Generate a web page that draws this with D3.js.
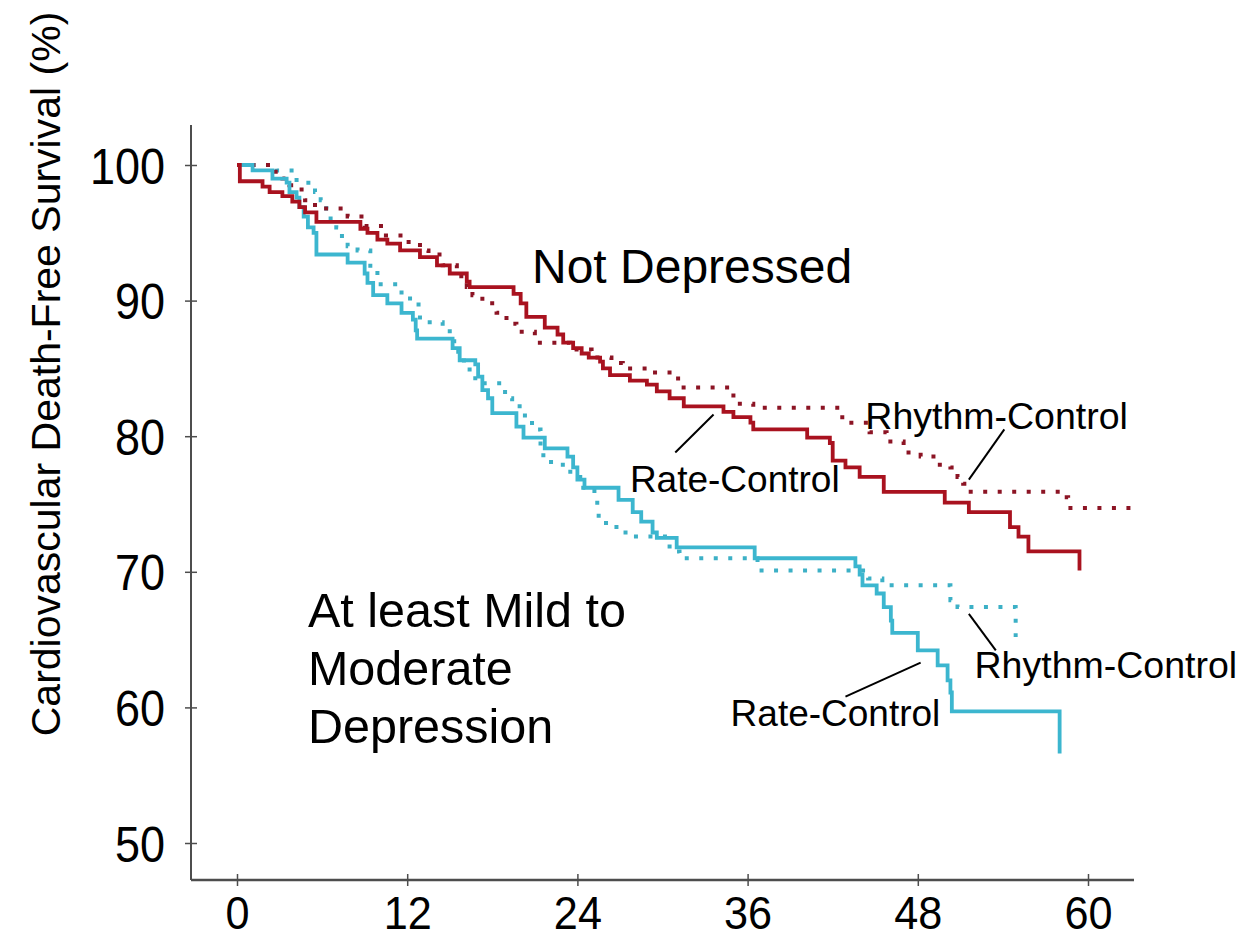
<!DOCTYPE html>
<html>
<head>
<meta charset="utf-8">
<script src="https://cdn.jsdelivr.net/npm/d3@7"></script>
<style>
  body { margin: 0; background: #fff; }
  svg { display: block; }
</style>
</head>
<body>
<script>
// months of follow-up
var xTicks = [0, 12, 24, 36, 48, 60];
var yTicks = [50, 60, 70, 80, 90, 100];

// Not depressed, rate control (solid red)
var rateNotTime = [0, 0.2, 1.8, 2.3, 3.2, 3.9, 4.4, 4.8, 5.6, 8.7, 9.2, 9.9, 10.6, 11.5, 12.9, 14.1, 15.0, 16.2, 16.4, 19.5,
  20.0, 20.4, 21.7, 22.6, 23.0, 23.7, 24.3, 24.8, 25.6, 25.8, 26.3, 27.7, 28.9, 29.6, 30.5, 31.5, 34.3, 35.0, 36.2, 36.4,
  40.2, 41.8, 42.0, 42.9, 43.9, 45.6, 49.9, 51.6, 54.5, 55.1, 55.8, 59.4];
var rateNotSurv = [100, 98.8, 98.4, 98.0, 97.7, 97.3, 96.9, 96.5, 95.8, 95.3, 95.0, 94.5, 94.2, 93.7, 93.2, 92.6, 92.0, 91.4, 91.0, 90.5,
  89.8, 88.8, 88.0, 87.5, 86.9, 86.5, 86.1, 85.8, 85.5, 85.0, 84.5, 84.1, 83.8, 83.3, 82.8, 82.2, 81.8, 81.4, 81.0, 80.5,
  79.9, 79.5, 78.2, 77.7, 77.0, 75.9, 75.1, 74.4, 73.3, 72.6, 71.5, 70.1];

// Not depressed, rhythm control (dotted red)
var rhythmNotTime = [0, 2.5, 3.2, 3.7, 4.2, 4.8, 5.5, 7.8, 9.0, 10.5, 12.1, 12.9, 13.5, 14.5, 15.5, 16.2, 16.6, 17.3, 18.3, 19.0,
  19.7, 21.0, 23.5, 25.0, 26.4, 27.2, 28.9, 31.1, 34.8, 35.0, 36.4, 42.5, 43.0, 44.6, 45.8, 47.0, 48.2, 49.4, 50.3, 50.8,
  51.2, 51.5, 58.5, 58.6, 63.1];
var rhythmNotSurv = [100, 99.5, 99.0, 98.5, 98.2, 97.4, 96.8, 96.2, 95.5, 94.8, 94.1, 93.7, 93.4, 92.6, 91.8, 91.0, 90.4, 89.8, 89.1, 88.3,
  87.7, 86.9, 86.4, 85.8, 85.4, 85.0, 84.7, 83.6, 83.2, 82.4, 82.1, 81.4, 81.0, 80.3, 79.6, 78.8, 78.5, 77.9, 77.7, 77.0,
  76.5, 75.9, 75.5, 74.7, 74.7];

// Depressed, rate control (solid blue)
var rateDepTime = [0, 1.1, 2.5, 3.5, 3.7, 4.2, 4.4, 4.7, 5.0, 5.4, 5.6, 7.8, 9.0, 9.2, 9.6, 10.6, 11.6, 12.4, 12.6, 12.7,
  15.2, 15.7, 16.8, 17.0, 17.3, 17.7, 18.0, 19.7, 20.2, 21.7, 23.3, 23.7, 24.0, 24.5, 26.9, 27.9, 28.5, 29.3, 29.6, 31.0,
  36.5, 43.6, 43.9, 44.1, 45.1, 45.6, 46.1, 46.2, 48.0, 49.4, 50.1, 50.3, 50.4, 58.0];
var rateDepSurv = [100, 99.6, 99.0, 98.7, 98.0, 97.6, 96.9, 96.2, 95.4, 95.0, 93.4, 92.8, 92.0, 91.3, 90.4, 89.8, 89.1, 88.6, 87.8, 87.2,
  86.5, 85.6, 85.3, 84.4, 83.4, 82.8, 81.7, 80.7, 79.9, 79.1, 78.5, 77.7, 76.8, 76.2, 75.3, 74.4, 73.7, 72.9, 72.5, 71.8,
  71.0, 70.4, 69.8, 69.0, 68.4, 67.4, 66.4, 65.5, 64.2, 63.1, 62.0, 61.1, 59.7, 56.6];

// Depressed, rhythm control (dotted blue)
var rhythmDepTime = [0, 2.8, 4.2, 5.5, 5.9, 6.3, 6.6, 7.0, 7.4, 7.8, 8.5, 9.4, 9.9, 11.6, 12.2, 12.8, 12.9, 14.5, 15.0, 15.6,
  16.0, 16.4, 16.8, 18.9, 19.4, 20.3, 20.8, 21.4, 21.6, 22.4, 23.5, 24.2, 25.2, 25.4, 25.5, 26.4, 27.0, 27.7, 30.5, 31.2,
  36.7, 44.5, 45.5, 50.3, 50.8, 54.9];
var rhythmDepSurv = [100, 99.6, 98.7, 98.0, 97.4, 96.8, 95.9, 95.4, 94.6, 94.0, 93.7, 92.4, 91.2, 90.6, 90.0, 89.4, 88.4, 88.0, 87.0, 86.0,
  85.3, 84.5, 83.9, 82.8, 82.2, 81.2, 80.5, 78.8, 78.1, 77.9, 77.0, 76.2, 75.5, 74.6, 73.6, 73.3, 72.9, 72.6, 71.5, 71.0,
  70.1, 69.5, 69.0, 67.9, 67.4, 65.2];

var red = "#a9121f", redDot = "#8c1424", blue = "#3cb6cf", blueDot = "#3cb0c6";

var W = 1255, H = 939;

var svg = d3.select("body").append("svg")
    .attr("width", W)
    .attr("height", H)
    .attr("viewBox", "0 0 " + W + " " + H);

var x = d3.scaleLinear().domain([0, 60]).range([237, 1088]);
var y = d3.scaleLinear().domain([50, 100]).range([843, 165]);

var axisLeftX = 191, axisBottomY = 880, axisTopY = 125, axisRightX = 1134;
var axisColor = "#4d4d4d";

// axis lines
svg.append("line")
    .attr("x1", axisLeftX).attr("x2", axisLeftX)
    .attr("y1", axisTopY).attr("y2", axisBottomY)
    .attr("stroke", axisColor).attr("stroke-width", 2);
svg.append("line")
    .attr("x1", axisLeftX).attr("x2", axisRightX)
    .attr("y1", axisBottomY).attr("y2", axisBottomY)
    .attr("stroke", axisColor).attr("stroke-width", 2.5);

// y axis ticks + labels
var gy = svg.append("g")
    .attr("transform", "translate(" + axisLeftX + ",0)")
    .call(d3.axisLeft(y).tickValues(yTicks).tickSize(6).tickSizeOuter(0));
gy.select(".domain").remove();
gy.selectAll(".tick line").attr("stroke", axisColor).attr("stroke-width", 1.5).attr("x1", 6).attr("x2", -6);
gy.selectAll(".tick text")
    .attr("font-family", "'Liberation Sans', Arial, sans-serif")
    .attr("font-size", 50)
    .attr("fill", "#000")
    .attr("x", 0)
    .attr("dy", "0.36em")
    .attr("transform", "translate(-26,0) scale(0.9,1)");

// x axis ticks + labels
var gx = svg.append("g")
    .attr("transform", "translate(0," + axisBottomY + ")")
    .call(d3.axisBottom(x).tickValues(xTicks).tickSize(6).tickSizeOuter(0));
gx.select(".domain").remove();
gx.selectAll(".tick line").attr("stroke", axisColor).attr("stroke-width", 1.5).attr("y1", -6).attr("y2", 6);
gx.selectAll(".tick text")
    .attr("font-family", "'Liberation Sans', Arial, sans-serif")
    .attr("font-size", 47)
    .attr("fill", "#000")
    .attr("y", 0)
    .attr("dy", 0)
    .attr("transform", "translate(0,49) scale(0.92,1)");

// y axis title
svg.append("text")
    .attr("transform", "translate(60,374) rotate(-90)")
    .attr("text-anchor", "middle")
    .attr("font-family", "'Liberation Sans', Arial, sans-serif")
    .attr("font-size", 41)
    .attr("fill", "#000")
    .text("Cardiovascular Death-Free Survival (%)");

function zipSteps(t, s) {
  return t.map(function(d, i) { return {t: d, s: s[i]}; });
}

var line = d3.line()
    .x(function(d) { return x(d.t); })
    .y(function(d) { return y(d.s); })
    .curve(d3.curveStepAfter);

var curves = [
  {pts: zipSteps(rhythmDepTime, rhythmDepSurv), color: blueDot, dash: "4 10.5", w: 4},
  {pts: zipSteps(rhythmNotTime, rhythmNotSurv), color: redDot, dash: "4 10.5", w: 4},
  {pts: zipSteps(rateDepTime, rateDepSurv), color: blue, dash: null, w: 3.8},
  {pts: zipSteps(rateNotTime, rateNotSurv), color: red, dash: null, w: 3.8}
];

svg.selectAll(".curve")
    .data(curves)
    .enter()
    .append("path")
    .attr("class", "curve")
    .attr("d", function(d) { return line(d.pts); })
    .attr("fill", "none")
    .attr("stroke", function(d) { return d.color; })
    .attr("stroke-width", function(d) { return d.w; })
    .attr("stroke-dasharray", function(d) { return d.dash; })
    .attr("stroke-linejoin", "miter");

// labels (positioned in data units)
var labels = [
  {text: ["Not Depressed"], t: 20.8, s: 91.3, size: 48},
  {text: ["At least Mild to", "Moderate", "Depression"], t: 5.0, s: 65.9, size: 48.5},
  {text: ["Rhythm-Control"], t: 44.3, s: 80.5, size: 37.5},
  {text: ["Rate-Control"], t: 27.7, s: 75.9, size: 37},
  {text: ["Rhythm-Control"], t: 52.0, s: 62.2, size: 37.5},
  {text: ["Rate-Control"], t: 34.8, s: 58.6, size: 37}
];

var lab = svg.selectAll(".lab")
    .data(labels)
    .enter()
    .append("text")
    .attr("class", "lab")
    .attr("x", function(d) { return x(d.t); })
    .attr("y", function(d) { return y(d.s); })
    .attr("font-family", "'Liberation Sans', Arial, sans-serif")
    .attr("font-size", function(d) { return d.size; })
    .attr("fill", "#000");

lab.selectAll("tspan")
    .data(function(d) { return d.text.map(function(s) { return {s: s, t: d.t}; }); })
    .enter()
    .append("tspan")
    .attr("x", function(d) { return x(d.t); })
    .attr("dy", function(d, i) { return i === 0 ? 0 : 58; })
    .text(function(d) { return d.s; });

// leader lines
var leaders = [
  {t1: 33.6, s1: 81.6, t2: 30.9, s2: 78.8},
  {t1: 54.1, s1: 80.5, t2: 51.6, s2: 76.8},
  {t1: 51.6, s1: 66.9, t2: 53.5, s2: 64.2},
  {t1: 48.2, s1: 63.3, t2: 42.9, s2: 60.8}
];

svg.selectAll(".leader")
    .data(leaders)
    .enter()
    .append("line")
    .attr("class", "leader")
    .attr("x1", function(d) { return x(d.t1); })
    .attr("y1", function(d) { return y(d.s1); })
    .attr("x2", function(d) { return x(d.t2); })
    .attr("y2", function(d) { return y(d.s2); })
    .attr("stroke", "#000")
    .attr("stroke-width", 2);
</script>
</body>
</html>
